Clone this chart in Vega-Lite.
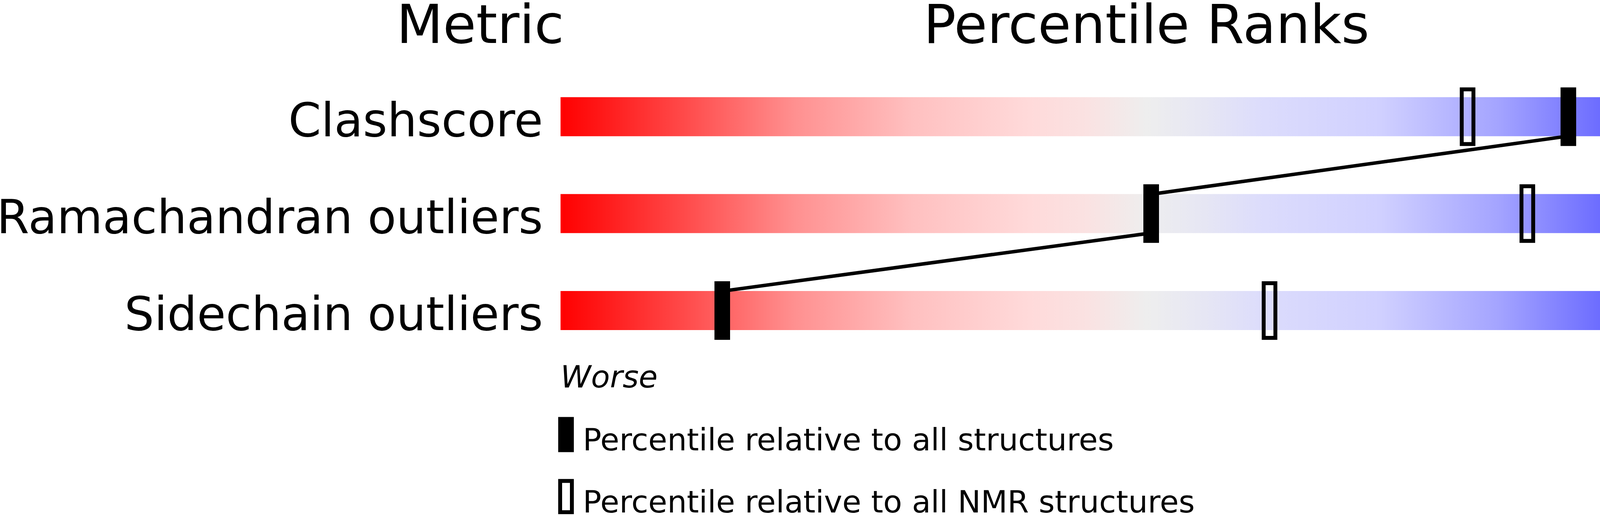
{
  "$schema": "https://vega.github.io/schema/vega-lite/v6.json",
  "width": 4823,
  "height": 1321,
  "autosize": "none",
  "padding": 0,
  "background": "white",
  "datasets": {
    "metrics": [
      {"metric": "Clashscore", "row": 1, "all": 86, "nmr": 77.4, "value": "2"},
      {"metric": "Ramachandran outliers", "row": 2, "all": 50.4, "nmr": 82.5, "value": "0.2%"},
      {"metric": "Sidechain outliers", "row": 3, "all": 13.8, "nmr": 60.5, "value": "8.7%"}
    ],
    "link": [
      {"step": 1, "pct": 86, "edge": 1.2},
      {"step": 2, "pct": 50.4, "edge": 1.8},
      {"step": 3, "pct": 50.4, "edge": 2.2},
      {"step": 4, "pct": 13.8, "edge": 2.8}
    ],
    "one": [{}]
  },
  "data": {"name": "metrics"},
  "layer": [
    {
      "mark": {
        "type": "bar",
        "height": 100,
        "color": {
          "gradient": "linear",
          "x1": 0, "x2": 1, "y1": 0, "y2": 0,
          "stops": [
            {"offset": 0, "color": "#ff0000"},
            {"offset": 0.1, "color": "#ff4646"},
            {"offset": 0.2, "color": "#ff9090"},
            {"offset": 0.3, "color": "#ffc0c0"},
            {"offset": 0.4, "color": "#ffdada"},
            {"offset": 0.45, "color": "#fae2e2"},
            {"offset": 0.5, "color": "#eeeeee"},
            {"offset": 0.55, "color": "#e6e6f4"},
            {"offset": 0.6, "color": "#dcdcfc"},
            {"offset": 0.7, "color": "#d0d0ff"},
            {"offset": 0.8, "color": "#a4a4ff"},
            {"offset": 0.9, "color": "#6464ff"},
            {"offset": 1, "color": "#0000ff"}
          ]
        }
      },
      "encoding": {
        "x": {"datum": 0, "type": "quantitative", "axis": null, "scale": {"domain": [-47.8333, 112.9333], "nice": false, "zero": false}},
        "x2": {"datum": 100},
        "y": {"field": "row", "type": "quantitative", "axis": null, "scale": {"domain": [-0.184, 5.1], "reverse": true, "nice": false, "zero": false}}
      }
    },
    {
      "data": {"name": "link"},
      "mark": {"type": "line", "color": "black", "strokeWidth": 9},
      "encoding": {
        "x": {"field": "pct", "type": "quantitative"},
        "y": {"field": "edge", "type": "quantitative"},
        "order": {"field": "step"}
      }
    },
    {
      "mark": {"type": "tick", "orient": "vertical", "thickness": 30, "size": 140, "fill": "black", "fillOpacity": 0, "stroke": "black", "strokeWidth": 10},
      "encoding": {
        "x": {"field": "nmr", "type": "quantitative"},
        "y": {"field": "row", "type": "quantitative"}
      }
    },
    {
      "mark": {"type": "tick", "orient": "vertical", "thickness": 40, "size": 150, "color": "black", "opacity": 1},
      "encoding": {
        "x": {"field": "all", "type": "quantitative"},
        "y": {"field": "row", "type": "quantitative"}
      }
    },
    {
      "mark": {"type": "text", "align": "right", "baseline": "alphabetic", "dy": 50, "fontSize": 120, "font": "DejaVu Sans", "color": "black"},
      "encoding": {
        "x": {"datum": -1.5},
        "y": {"field": "row", "type": "quantitative"},
        "text": {"field": "metric"}
      }
    },
    {
      "mark": {"type": "text", "align": "left", "baseline": "alphabetic", "dy": 50, "fontSize": 120, "font": "DejaVu Sans", "color": "black"},
      "encoding": {
        "x": {"datum": 101.5},
        "y": {"field": "row", "type": "quantitative"},
        "text": {"field": "value"}
      }
    },
    {
      "data": {"name": "one"},
      "mark": {"type": "text", "align": "right", "baseline": "alphabetic", "fontSize": 138, "font": "DejaVu Sans", "color": "black"},
      "encoding": {"x": {"datum": 0.3}, "y": {"datum": 0.24}, "text": {"value": "Metric"}}
    },
    {
      "data": {"name": "one"},
      "mark": {"type": "text", "align": "center", "baseline": "alphabetic", "fontSize": 138, "font": "DejaVu Sans", "color": "black"},
      "encoding": {"x": {"datum": 50}, "y": {"datum": 0.24}, "text": {"value": "Percentile Ranks"}}
    },
    {
      "data": {"name": "one"},
      "mark": {"type": "text", "align": "left", "baseline": "alphabetic", "fontSize": 138, "font": "DejaVu Sans", "color": "black"},
      "encoding": {"x": {"datum": 100}, "y": {"datum": 0.24}, "text": {"value": "Value"}}
    },
    {
      "data": {"name": "one"},
      "mark": {"type": "text", "align": "left", "baseline": "alphabetic", "fontSize": 79, "fontStyle": "italic", "font": "DejaVu Sans", "color": "black"},
      "encoding": {"x": {"datum": 0}, "y": {"datum": 3.796}, "text": {"value": "Worse"}}
    },
    {
      "data": {"name": "one"},
      "mark": {"type": "text", "align": "right", "baseline": "alphabetic", "fontSize": 79, "fontStyle": "italic", "font": "DejaVu Sans", "color": "black"},
      "encoding": {"x": {"datum": 99.8}, "y": {"datum": 3.796}, "text": {"value": "Better"}}
    },
    {
      "data": {"name": "one"},
      "mark": {"type": "tick", "orient": "vertical", "thickness": 40, "size": 90, "color": "black", "opacity": 1},
      "encoding": {"x": {"datum": 0.467}, "y": {"datum": 4.28}}
    },
    {
      "data": {"name": "one"},
      "mark": {"type": "tick", "orient": "vertical", "thickness": 30, "size": 80, "fill": "black", "fillOpacity": 0, "stroke": "black", "strokeWidth": 10},
      "encoding": {"x": {"datum": 0.467}, "y": {"datum": 4.92}}
    },
    {
      "data": {"name": "one"},
      "mark": {"type": "text", "align": "left", "baseline": "alphabetic", "fontSize": 79, "font": "DejaVu Sans", "color": "black"},
      "encoding": {"x": {"datum": 1.9}, "y": {"datum": 4.444}, "text": {"value": "Percentile relative to all structures"}}
    },
    {
      "data": {"name": "one"},
      "mark": {"type": "text", "align": "left", "baseline": "alphabetic", "fontSize": 79, "font": "DejaVu Sans", "color": "black"},
      "encoding": {"x": {"datum": 1.9}, "y": {"datum": 5.084}, "text": {"value": "Percentile relative to all NMR structures"}}
    }
  ],
  "config": {
    "view": {"stroke": null}
  }
}
